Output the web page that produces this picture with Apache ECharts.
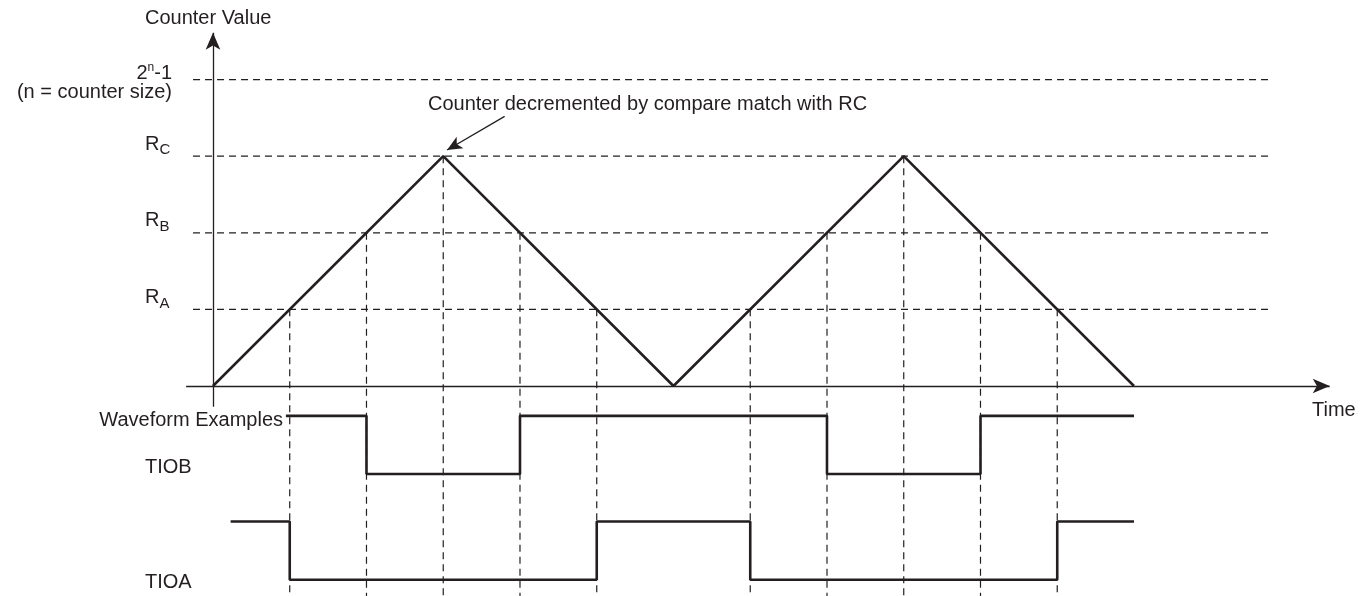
<!DOCTYPE html>
<html>
<head>
<meta charset="utf-8">
<script src="https://cdn.jsdelivr.net/npm/echarts/dist/echarts.min.js"></script>
<style>
html,body{margin:0;padding:0;background:#fff;}
#chart{width:1372px;height:596px;}
</style>
</head>
<body>
<div id="chart"></div>
<script>
// ---- data ----
// counter levels (arbitrary units, 0 = counter bottom)
const levelNames = ['RA', 'RB', 'RC', 'MAX'];
const levelValues = [1, 2, 3, 4];
// triangle counter waveform (time, value)
const counterTimes = [0, 3, 6, 9, 12];
const counterValues = [0, 3, 0, 3, 0];
// times where the counter crosses RA/RB/RC, with the level crossed
const crossTimes = [1, 2, 3, 4, 5, 7, 8, 9, 10, 11];
const crossLevels = [1, 2, 3, 2, 1, 1, 2, 3, 2, 1];
// TIOB waveform: transition times and states (1 = high, 0 = low)
const tiobTimes = [0.95, 2, 4, 8, 10, 12];
const tiobStates = [1, 0, 1, 0, 1, 1];
// TIOA waveform
const tioaTimes = [0.23, 1, 5, 7, 11, 12];
const tioaStates = [1, 0, 1, 0, 1, 1];

// ---- layout (not data) ----
const INK = '#231f20';
const FONT = '"Liberation Sans", Arial, Helvetica, sans-serif';
const X_MIN = -2.775, X_MAX = 15.101;
const Y_MIN = -2.742, Y_MAX = 5.039;
const TIOB_LEVELS = [-1.15, -0.39];   // low, high (vertical placement)
const TIOA_LEVELS = [-2.53, -1.77];
const H_DASH_FROM = -0.26, H_DASH_TO = 13.77;
const XAXIS_FROM = -0.35, XAXIS_TO = 14.55;
const YAXIS_FROM = -0.27, YAXIS_TO = 4.61;
const NOTE_FROM = [3.80, 3.52], NOTE_TO = [3.05, 3.08];

const series = [];

// horizontal dashed reference lines
levelValues.forEach(function (v) {
  series.push({
    type: 'line', silent: true, symbol: 'none', clip: false,
    data: [[H_DASH_FROM, v], [H_DASH_TO, v]],
    lineStyle: { color: INK, width: 1.2, type: [7, 5] }, z: 1
  });
});
// vertical dashed lines from crossings down
crossTimes.forEach(function (t, i) {
  series.push({
    type: 'line', silent: true, symbol: 'none', clip: false,
    data: [[t, crossLevels[i]], [t, Y_MIN]],
    lineStyle: { color: INK, width: 1.2, type: [7, 5] }, z: 1
  });
});
// counter triangle
series.push({
  type: 'line', silent: true, symbol: 'none', clip: false,
  data: counterTimes.map(function (t, i) { return [t, counterValues[i]]; }),
  lineStyle: { color: INK, width: 2.6 }, z: 3
});
// TIOB
series.push({
  type: 'line', silent: true, symbol: 'none', clip: false, step: 'end',
  data: tiobTimes.map(function (t, i) { return [t, TIOB_LEVELS[tiobStates[i]]]; }),
  lineStyle: { color: INK, width: 2.6 }, z: 3
});
// TIOA
series.push({
  type: 'line', silent: true, symbol: 'none', clip: false, step: 'end',
  data: tioaTimes.map(function (t, i) { return [t, TIOA_LEVELS[tioaStates[i]]]; }),
  lineStyle: { color: INK, width: 2.6 }, z: 3
});
// axes with arrows, plus the annotation arrow
series.push({
  type: 'line', silent: true, symbol: 'none', data: [],
  markLine: {
    silent: true, animation: false,
    symbol: ['none', 'arrow'],
    label: { show: false },
    data: [
      [{ coord: [XAXIS_FROM, 0], symbolSize: [11, 17] }, { coord: [XAXIS_TO, 0], symbolSize: [11, 17] }],
      [{ coord: [0, YAXIS_FROM], symbolSize: [11, 17] }, { coord: [0, YAXIS_TO], symbolSize: [11, 17] }],
      [{ coord: NOTE_FROM, symbolSize: [10, 15] }, { coord: NOTE_TO, symbolSize: [10, 15] }]
    ],
    lineStyle: { color: INK, width: 1.3, type: 'solid' },
    itemStyle: { color: INK }
  },
  z: 2
});

const chart = echarts.init(document.getElementById('chart'), null, { renderer: 'canvas' });
chart.setOption({
  animation: false,
  backgroundColor: '#fff',
  grid: { left: 0, right: 0, top: 0, bottom: 0 },
  xAxis: { type: 'value', min: X_MIN, max: X_MAX, show: false },
  yAxis: { type: 'value', min: Y_MIN, max: Y_MAX, show: false },
  series: series
});

function py(v) { return chart.convertToPixel({ gridIndex: 0 }, [0, v])[1]; }

const base = { fontSize: 20, fontFamily: FONT, fill: INK };
function txt(text, x, y, align, extra) {
  return {
    type: 'text', x: x, y: y, silent: true, z: 10,
    style: Object.assign({}, base, { text: text, align: align || 'left', verticalAlign: 'middle' }, extra || {})
  };
}
const rich = {
  b: { fontSize: 20, fontFamily: FONT, fill: INK, color: INK },
  sub: { fontSize: 15, fontFamily: FONT, color: INK, padding: [12, 0, 0, 0] },
  sup: { fontSize: 12, fontFamily: FONT, color: INK, padding: [0, 0, 10, 0] }
};
const subs = { RA: 'A', RB: 'B', RC: 'C' };
const graphics = [
  txt('Counter Value', 145, 18, 'left'),
  txt('{b|2}{sup|n}{b|-1}', 172, 73, 'right', { rich: rich }),
  txt('(n = counter size)', 172, 92, 'right'),
  txt('Counter decremented by compare match with RC', 428, 104, 'left'),
  txt('Waveform Examples', 283, 420, 'right'),
  txt('TIOB', 145, 467, 'left'),
  txt('TIOA', 145, 582, 'left'),
  txt('Time', 1312, 410, 'left')
];
levelNames.forEach(function (n, i) {
  if (!subs[n]) return;
  graphics.push(txt('{b|R}{sub|' + subs[n] + '}', 145, py(levelValues[i]) - 12, 'left', { rich: rich }));
});
chart.setOption({ graphic: graphics });
</script>
</body>
</html>
